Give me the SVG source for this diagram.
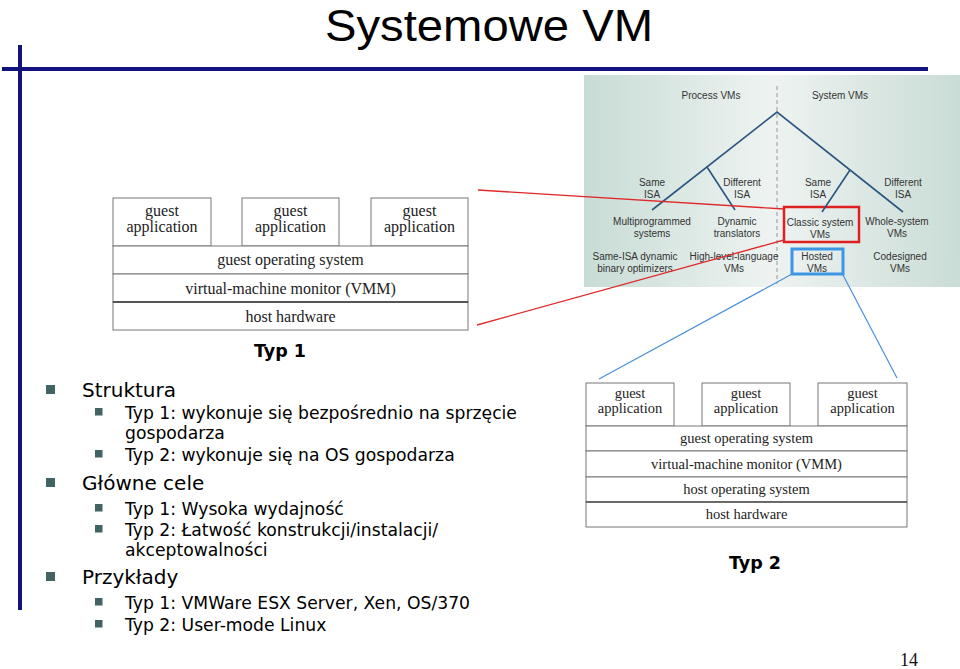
<svg xmlns="http://www.w3.org/2000/svg" width="960" height="669" viewBox="0 0 960 669">
<defs>
<style>
.title{font-family:"Liberation Sans",Arial,sans-serif;font-size:45px;fill:#000}
.tr{font-family:"Liberation Sans",Arial,sans-serif;font-size:10px;fill:#333;text-anchor:middle}
.box{fill:#fff;stroke:#777;stroke-width:1}
.s1{font-family:"Liberation Serif","Times New Roman",serif;font-size:16px;fill:#222;text-anchor:middle}
.s2{font-family:"Liberation Serif","Times New Roman",serif;font-size:14.5px;fill:#222;text-anchor:middle}
.cap{font-family:"DejaVu Sans",Verdana,sans-serif;font-size:17.5px;font-weight:bold;fill:#000;text-anchor:middle}
.l1{font-family:"DejaVu Sans",Verdana,sans-serif;font-size:20px;fill:#000}
.l2{font-family:"DejaVu Sans",Verdana,sans-serif;font-size:17.2px;fill:#000}
.b{fill:#416363}
.tree{stroke:#2b5680;stroke-width:1.6;fill:none}
.red{stroke:#e02a2a;stroke-width:1.3;fill:none}
.blue{stroke:#4a90d9;stroke-width:1.2;fill:none}
</style>
<linearGradient id="bg" x1="0" y1="0" x2="1" y2="0">
<stop offset="0" stop-color="#c8dcd6"/>
<stop offset="0.5" stop-color="#eef3f1"/>
<stop offset="1" stop-color="#cadcd6"/>
</linearGradient>
</defs>
<rect width="960" height="669" fill="#fff"/>

<g id="title">
<text class="title" x="489" y="41" text-anchor="middle" textLength="328" lengthAdjust="spacingAndGlyphs">Systemowe VM</text>
</g>
<g id="frame">
<rect x="18" y="45" width="4" height="565" fill="#12127e"/>
<rect x="2" y="67" width="926" height="4" fill="#12127e"/>
</g>

<g id="taxonomy">
<rect x="584" y="75" width="376" height="212" fill="url(#bg)"/>
<line x1="777" y1="86" x2="777" y2="284" stroke="#999" stroke-width="1" stroke-dasharray="4,3"/>
<text class="tr" x="711" y="99">Process VMs</text>
<text class="tr" x="840" y="99">System VMs</text>
<text class="tr" x="652" y="186">Same</text>
<text class="tr" x="652" y="198">ISA</text>
<text class="tr" x="742" y="186">Different</text>
<text class="tr" x="742" y="198">ISA</text>
<text class="tr" x="818" y="186">Same</text>
<text class="tr" x="818" y="198">ISA</text>
<text class="tr" x="903" y="186">Different</text>
<text class="tr" x="903" y="198">ISA</text>
<text class="tr" x="652" y="225">Multiprogrammed</text>
<text class="tr" x="652" y="237">systems</text>
<text class="tr" x="737" y="225">Dynamic</text>
<text class="tr" x="737" y="237">translators</text>
<text class="tr" x="820" y="226">Classic system</text>
<text class="tr" x="820" y="238">VMs</text>
<text class="tr" x="897" y="225">Whole-system</text>
<text class="tr" x="897" y="237">VMs</text>
<text class="tr" x="635" y="260">Same-ISA dynamic</text>
<text class="tr" x="635" y="272">binary optimizers</text>
<text class="tr" x="734" y="260">High-level-language</text>
<text class="tr" x="734" y="272">VMs</text>
<text class="tr" x="817" y="260">Hosted</text>
<text class="tr" x="817" y="272">VMs</text>
<text class="tr" x="900" y="260">Codesigned</text>
<text class="tr" x="900" y="272">VMs</text>
<rect x="784" y="207" width="75" height="35" fill="none" stroke="#e02020" stroke-width="2.5"/>
<rect x="792" y="249" width="51" height="25" fill="none" stroke="#3c96e6" stroke-width="3"/>
</g>

<g id="connectors">
<polyline class="tree" points="652,210 777,112 903,212"/>
<line class="tree" x1="707" y1="167" x2="735" y2="210"/>
<line class="tree" x1="850" y1="170" x2="822" y2="212"/>
<line class="red" x1="478" y1="190" x2="784" y2="209"/>
<line class="red" x1="477" y1="325" x2="784" y2="240"/>
<line class="blue" x1="792" y1="274" x2="599" y2="379"/>
<line class="blue" x1="843" y1="275" x2="897" y2="378"/>
</g>

<g id="typ1">
<rect class="box" x="113" y="198" width="98" height="48"/>
<rect class="box" x="242" y="198" width="97" height="48"/>
<rect class="box" x="371" y="198" width="97" height="48"/>
<rect class="box" x="113" y="246" width="355" height="28"/>
<rect class="box" x="113" y="274" width="355" height="28"/>
<rect class="box" x="113" y="302" width="355" height="28"/>
<line x1="113" y1="302" x2="468" y2="302" stroke="#555" stroke-width="2"/>
<text class="s1" x="162" y="216">guest</text>
<text class="s1" x="162" y="232">application</text>
<text class="s1" x="290.5" y="216">guest</text>
<text class="s1" x="290.5" y="232">application</text>
<text class="s1" x="419.5" y="216">guest</text>
<text class="s1" x="419.5" y="232">application</text>
<text class="s1" x="290.5" y="265">guest operating system</text>
<text class="s1" x="290.5" y="294">virtual-machine monitor (VMM)</text>
<text class="s1" x="290.5" y="322">host hardware</text>
<text class="cap" x="280" y="357">Typ 1</text>
</g>

<g id="typ2">
<rect class="box" x="586" y="383" width="88" height="43"/>
<rect class="box" x="702" y="383" width="88" height="43"/>
<rect class="box" x="818" y="383" width="89" height="43"/>
<rect class="box" x="586" y="426" width="321" height="25"/>
<rect class="box" x="586" y="451" width="321" height="26"/>
<rect class="box" x="586" y="477" width="321" height="25"/>
<rect class="box" x="586" y="502" width="321" height="25"/>
<line x1="586" y1="502" x2="907" y2="502" stroke="#555" stroke-width="1.6"/>
<text class="s2" x="630" y="398">guest</text>
<text class="s2" x="630" y="413">application</text>
<text class="s2" x="746" y="398">guest</text>
<text class="s2" x="746" y="413">application</text>
<text class="s2" x="862.5" y="398">guest</text>
<text class="s2" x="862.5" y="413">application</text>
<text class="s2" x="746.5" y="443">guest operating system</text>
<text class="s2" x="746.5" y="469">virtual-machine monitor (VMM)</text>
<text class="s2" x="746.5" y="494">host operating system</text>
<text class="s2" x="746.5" y="519">host hardware</text>
<text class="cap" x="755" y="569">Typ 2</text>
</g>

<g id="bullets">
<rect class="b" x="46" y="385" width="9" height="9"/>
<text class="l1" x="82" y="397">Struktura</text>
<rect class="b" x="95" y="408" width="7.5" height="7.5"/>
<text class="l2" x="125" y="419">Typ 1: wykonuje się bezpośrednio na sprzęcie</text>
<text class="l2" x="125" y="439">gospodarza</text>
<rect class="b" x="95" y="450" width="7.5" height="7.5"/>
<text class="l2" x="125" y="461">Typ 2: wykonuje się na OS gospodarza</text>
<rect class="b" x="46" y="478" width="9" height="9"/>
<text class="l1" x="82" y="490">Główne cele</text>
<rect class="b" x="95" y="504" width="7.5" height="7.5"/>
<text class="l2" x="125" y="515">Typ 1: Wysoka wydajność</text>
<rect class="b" x="95" y="525" width="7.5" height="7.5"/>
<text class="l2" x="125" y="536">Typ 2: Łatwość konstrukcji/instalacji/</text>
<text class="l2" x="125" y="556">akceptowalności</text>
<rect class="b" x="46" y="572" width="9" height="9"/>
<text class="l1" x="82" y="584">Przykłady</text>
<rect class="b" x="95" y="598" width="7.5" height="7.5"/>
<text class="l2" x="125" y="609">Typ 1: VMWare ESX Server, Xen, OS/370</text>
<rect class="b" x="95" y="620" width="7.5" height="7.5"/>
<text class="l2" x="125" y="631">Typ 2: User-mode Linux</text>
</g>

<g id="page">
<text x="909" y="666" text-anchor="middle" font-family="Liberation Serif,serif" font-size="18" fill="#111">14</text>
</g>
</svg>
